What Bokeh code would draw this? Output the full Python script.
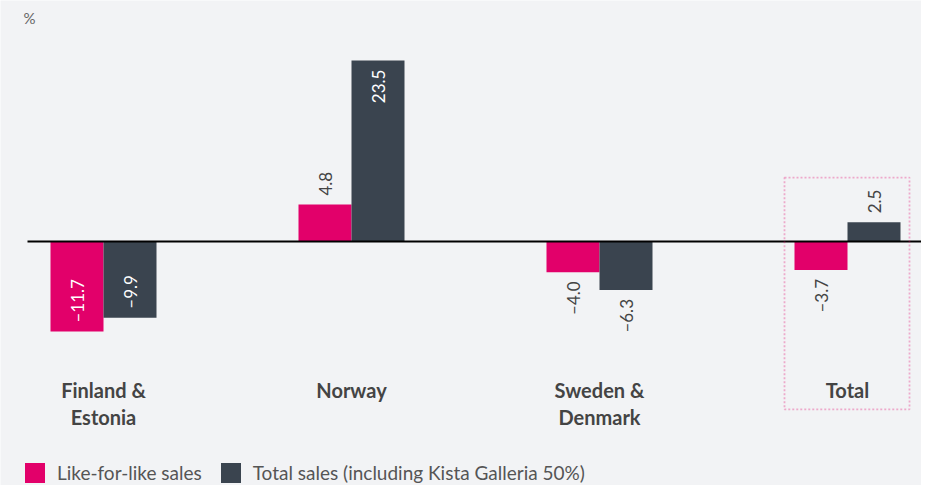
import numpy as np
from bokeh.plotting import figure
from bokeh.models import Range1d, ColumnDataSource, Legend, LegendItem, Label, BoxAnnotation
from bokeh.core.properties import value
from bokeh.embed import file_html
from bokeh.resources import INLINE

# ---- data ----
regions = ["Finland &\nEstonia", "Norway", "Sweden &\nDenmark", "Total"]
like_for_like = [-11.7, 4.8, -4.0, -3.7]
total_sales = [-9.9, 23.5, -6.3, 2.5]
series_names = ["Like-for-like sales", "Total sales (including Kista Galleria 50%)"]

PINK = "#e2006a"
DARK = "#3a444f"
BG = "#f2f3f5"
TXT = "#444444"

PX_PER_UNIT_Y = 7.7
PX_PER_GROUP = 248.0

W, H = 921, 485
p = figure(width=W, height=H, output_backend="svg", toolbar_location=None,
           x_range=Range1d(-103 / PX_PER_GROUP, (W - 103) / PX_PER_GROUP),
           y_range=Range1d(-(H - 241) / PX_PER_UNIT_Y, 241 / PX_PER_UNIT_Y),
           min_border=0, background_fill_color=BG, border_fill_color=BG,
           outline_line_color=None)
p.axis.visible = False
p.grid.visible = False

idx = np.arange(len(regions))
bw = 53.0 / PX_PER_GROUP
off = bw / 2

src1 = ColumnDataSource(dict(x=idx - off, top=like_for_like))
src2 = ColumnDataSource(dict(x=idx + off, top=total_sales))
r1 = p.vbar(x="x", top="top", bottom=0, width=bw, source=src1, fill_color=PINK, line_color=None)
r2 = p.vbar(x="x", top="top", bottom=0, width=bw, source=src2, fill_color=DARK, line_color=None)

# zero line
p.segment(x0=[-76 / PX_PER_GROUP], y0=[0], x1=[3.4], y1=[0], line_color="black", line_width=2)

# value labels
pad = 9.0 / PX_PER_UNIT_Y
def label_data(xs, vals):
    ys, aligns, colors, texts = [], [], [], []
    for v in vals:
        inside = abs(v) > 8
        if inside:
            ys.append(v - pad if v > 0 else v + pad)
            aligns.append("right" if v > 0 else "left")
            colors.append("white")
        else:
            ys.append(v + pad if v > 0 else v - pad)
            aligns.append("left" if v > 0 else "right")
            colors.append(TXT)
        texts.append(f"{v:.1f}".replace("-", "\u2013"))
    return dict(x=list(xs), y=ys, align=aligns, color=colors, text=texts)

for xs, vals in [(idx - off, like_for_like), (idx + off, total_sales)]:
    s = ColumnDataSource(label_data(xs, vals))
    p.text(x="x", y="y", text="text", source=s, angle=np.pi / 2,
           text_align="align", text_baseline="middle", text_color="color",
           text_font=value("Lato"), text_font_size="17px")

# category labels
cat_src = ColumnDataSource(dict(x=idx, y=[-17.7] * len(regions), text=regions))
p.text(x="x", y="y", text="text", source=cat_src, text_align="center", text_baseline="top",
       text_font=value("Lato"), text_font_style="bold", text_font_size="20px",
       text_color=TXT, text_line_height=1.15)

# dotted box around Total
p.add_layout(BoxAnnotation(left=3 - 63 / PX_PER_GROUP, right=3 + 62 / PX_PER_GROUP,
                           top=8.3, bottom=-21.8, fill_alpha=0, fill_color=None,
                           line_color=PINK, line_dash="2 2", line_width=1.8))

# unit label
p.add_layout(Label(x=23, y=H - 17, x_units="screen", y_units="screen", text="%",
                   text_font="Lato", text_font_size="15px", text_color="#666666",
                   text_baseline="middle"))

legend = Legend(items=[LegendItem(label=series_names[0], renderers=[r1]),
                       LegendItem(label=series_names[1], renderers=[r2])],
                orientation="horizontal", location=(22, 0), padding=0, margin=0,
                spacing=16, label_standoff=10, glyph_width=25, glyph_height=25,
                label_height=25, background_fill_alpha=0, border_line_color=None,
                label_text_font="Lato", label_text_font_size="19px",
                label_text_color="#555555")
p.add_layout(legend)

open("out.html", "w").write(file_html(p, INLINE))
